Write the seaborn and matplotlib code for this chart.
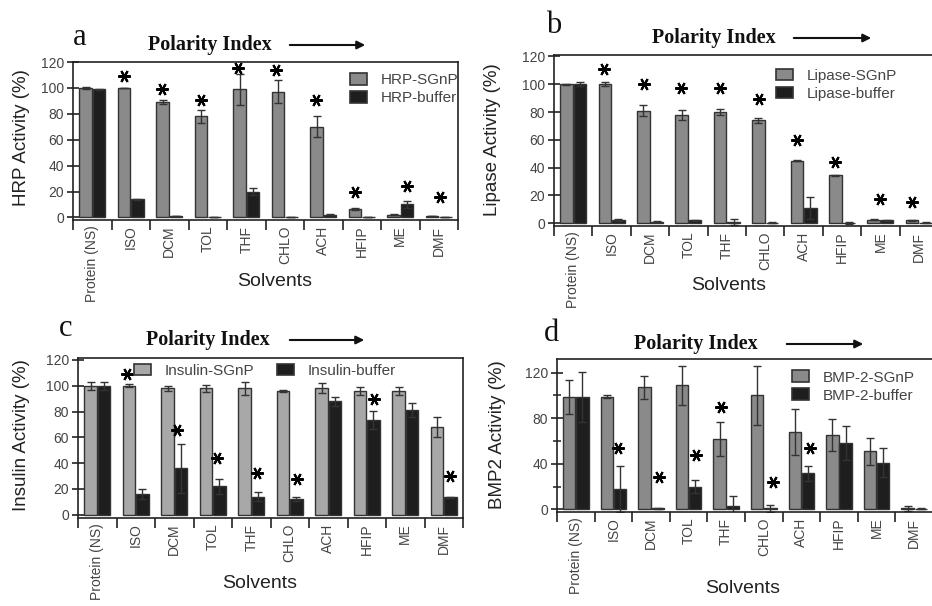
import numpy as np
import pandas as pd
import matplotlib
matplotlib.use("Agg")
import matplotlib.pyplot as plt
import matplotlib.patches as mpatches
import seaborn as sns

solvents = ["Protein (NS)", "ISO", "DCM", "TOL", "THF", "CHLO", "ACH", "HFIP", "ME", "DMF"]

# panel a - HRP
hrp_sgnp = [100, 100, 89, 78, 99, 97, 70, 6.5, 2, 1]
hrp_sgnp_err = [1, 0, 1.5, 5, 12, 9, 8, 0.5, 0.5, 0.2]
hrp_buf = [99, 14, 1, 0.5, 20, 0.5, 2, 0.5, 10, 0.5]
hrp_buf_err = [0.5, 0.5, 0.2, 0.2, 2.5, 0.2, 0.3, 0.2, 2.5, 0.2]
hrp_star_cat = ["ISO", "DCM", "TOL", "THF", "CHLO", "ACH", "HFIP", "ME", "DMF"]
hrp_star_dx = [-0.17, -0.2, -0.18, -0.21, -0.22, -0.18, -0.17, 0.18, 0.03]
hrp_star_y = [109, 99, 91, 115, 114, 91, 20, 24, 16]

# panel b - lipase
lip_sgnp = [100, 100, 81, 78, 80, 74, 45, 34.5, 2.5, 2]
lip_sgnp_err = [0.5, 1.5, 4, 3.5, 2.5, 2, 0.3, 0.5, 0.3, 0.5]
lip_buf = [100, 2.5, 1, 2, 1, 0.5, 11, 0.3, 2, 0.5]
lip_buf_err = [1.5, 0.7, 0.3, 0.5, 2, 0.2, 8, 0.8, 0.3, 0.5]
lip_star_cat = ["ISO", "DCM", "TOL", "THF", "CHLO", "ACH", "HFIP", "ME", "DMF"]
lip_star_dx = [-0.2, -0.16, -0.19, -0.19, -0.15, -0.17, -0.19, 0.0, -0.19]
lip_star_y = [111, 100, 97.5, 97.5, 89.6, 60, 44, 17.5, 15]

# panel c - insulin
ins_sgnp = [100, 100, 98, 98, 98, 96, 98, 96, 96, 68]
ins_sgnp_err = [3, 1, 2, 2.5, 5, 0.5, 4, 3, 3, 8]
ins_buf = [100, 16, 36, 22, 14, 12.5, 88, 73.5, 81, 13.5]
ins_buf_err = [3, 4, 19, 6, 3.5, 1.5, 3.5, 7, 5.5, 0.5]
ins_star_cat = ["ISO", "DCM", "TOL", "THF", "CHLO", "HFIP", "DMF"]
ins_star_dx = [-0.235, 0.07, 0.113, 0.157, 0.2, 0.2, 0.157]
ins_star_y = [109, 66, 44, 32, 27.6, 90, 30]

# panel d - BMP-2
bmp_sgnp = [99, 99, 107, 109, 62, 100, 68, 65, 51, 1]
bmp_sgnp_err = [15, 1.5, 10, 17, 15, 26, 20, 14, 12, 2]
bmp_buf = [99, 18, 1, 20, 3, 1, 31.5, 58, 41, 0.5]
bmp_buf_err = [22, 20, 0.5, 6, 9, 3, 7, 15, 13, 0.5]
bmp_star_cat = ["ISO", "DCM", "TOL", "THF", "CHLO", "ACH"]
bmp_star_dx = [0.135, 0.225, 0.2, -0.15, 0.25, 0.225]
bmp_star_y = [54, 28.7, 47.4, 90, 24, 54]

sns.set_style("ticks")
plt.rcParams["font.family"] = ["Liberation Sans", "DejaVu Sans"]

fig = plt.figure(figsize=(9.32, 6.06), dpi=100)

DARK = "#1e1e1e"
EDGE = "#333333"


def panel(rect, names, sgnp, sgnp_err, buf, buf_err, star_cat, star_dx, star_y,
          ylabel, ylim, yticks, gray, leg_anchor, leg_ncol, ylab_xy, xlab_xy, minor=None):
    ax = fig.add_axes(rect)
    df = pd.DataFrame({
        "Solvents": solvents * 2,
        "group": [names[0]] * len(solvents) + [names[1]] * len(solvents),
        "activity": sgnp + buf,
    })
    sns.barplot(data=df, x="Solvents", y="activity", hue="group", order=solvents,
                palette=[gray, DARK], width=0.7, gap=0.06, edgecolor=EDGE,
                linewidth=1, errorbar=None, legend=False, ax=ax)
    for cont, errs in zip(ax.containers, [sgnp_err, buf_err]):
        for bar, e in zip(cont, errs):
            ax.errorbar(bar.get_x() + bar.get_width() / 2, bar.get_height(), yerr=e,
                        fmt="none", ecolor="#333333", elinewidth=1, capsize=3, capthick=1)
    sx = [solvents.index(c) + d for c, d in zip(star_cat, star_dx)]
    ax.plot(sx, star_y, ls="none", marker=(6, 2, 90), ms=9, mew=1.5, color="black")

    ax.set_xlim(-0.5, 9.5)
    ax.set_ylim(*ylim)
    ax.set_yticks(yticks)
    if minor is not None:
        ax.set_yticks(minor, minor=True)
        ax.tick_params(axis="y", which="minor", direction="inout", length=6, width=1.1, color="#222")
    ax.set_xticks(np.arange(-0.5, 10, 1))
    ax.set_xticklabels([])
    ax.set_xticks(np.arange(10), minor=True)
    ax.set_xticklabels(solvents, minor=True, rotation=90, fontsize=10, color="#444")
    ax.tick_params(axis="x", which="minor", length=0, pad=4)
    ax.tick_params(axis="x", which="major", direction="out", length=7, width=1.2, color="#222")
    ax.tick_params(axis="y", which="major", direction="inout", length=9, width=1.2,
                   color="#222", labelsize=10, labelcolor="#444", pad=2)
    for s in ax.spines.values():
        s.set_linewidth(1.2)
        s.set_color("#222")

    ax.set_ylabel(ylabel, fontsize=13.5, color="#222")
    ax.yaxis.set_label_coords(*ylab_xy)
    ax.set_xlabel("Solvents", fontsize=14, color="#222")
    ax.xaxis.set_label_coords(*xlab_xy)

    handles = [mpatches.Patch(facecolor=gray, edgecolor=EDGE, linewidth=1.2, label=names[0]),
               mpatches.Patch(facecolor=DARK, edgecolor=EDGE, linewidth=1.2, label=names[1])]
    ax.legend(handles=handles, loc="upper left", bbox_to_anchor=leg_anchor, ncol=leg_ncol,
              frameon=False, fontsize=11, labelcolor="#444", handlelength=1.1,
              handleheight=0.8, handletextpad=0.9, borderpad=0, borderaxespad=0,
              columnspacing=1.5, labelspacing=0.25)
    return ax


W, H = 932, 606


def rect(l, t, r, b):
    return [l / W, 1 - b / H, (r - l) / W, (b - t) / H]


panel(rect(73, 62, 458, 220), ["HRP-SGnP", "HRP-buffer"], hrp_sgnp, hrp_sgnp_err, hrp_buf,
      hrp_buf_err, hrp_star_cat, hrp_star_dx, hrp_star_y, "HRP Activity (%)", (-2, 120),
      range(0, 121, 20), "#8a8a8a", (0.72, 0.93), 1, (-0.112, 0.52), (0.525, -0.335))
panel(rect(554, 55, 938, 226), ["Lipase-SGnP", "Lipase-buffer"], lip_sgnp, lip_sgnp_err, lip_buf,
      lip_buf_err, lip_star_cat, lip_star_dx, lip_star_y, "Lipase Activity (%)", (-2, 121),
      range(0, 121, 20), "#8a8a8a", (0.578, 0.92), 1, (-0.138, 0.503), (0.456, -0.298))
panel(rect(78, 358, 463, 518), ["Insulin-SGnP", "Insulin-buffer"], ins_sgnp, ins_sgnp_err, ins_buf,
      ins_buf_err, ins_star_cat, ins_star_dx, ins_star_y, "Insulin Activity (%)", (-2.5, 121.5),
      range(0, 121, 20), "#a8a8a8", (0.146, 0.965), 2, (-0.125, 0.52), (0.473, -0.356))
panel(rect(557, 359, 933, 512), ["BMP-2-SGnP", "BMP-2-buffer"], bmp_sgnp, bmp_sgnp_err, bmp_buf,
      bmp_buf_err, bmp_star_cat, bmp_star_dx, bmp_star_y, "BMP2 Activity (%)", (-2.3, 132),
      [0, 40, 80, 120], "#8a8a8a", (0.625, 0.925), 1, (-0.136, 0.507), (0.495, -0.444),
      minor=[20, 60, 100])

# panel letters, "Polarity Index" headers and arrows
letters = ["a", "b", "c", "d"]
letter_xy = [(73, 45), (546, 33), (59, 336), (544, 341)]
pol_xy = [(210, 45), (714, 38), (208, 340), (696, 344)]
arrow_x = [(287, 368), (791, 874), (287, 367), (784, 866)]
for let, (lx, ly), (px, py), (a0, a1) in zip(letters, letter_xy, pol_xy, arrow_x):
    fig.text(lx / W, 1 - ly / H, let, fontsize=22, family="Liberation Serif", ha="left",
             va="baseline", color="#111")
    fig.text(px / W, 1 - py / H, "Polarity Index", fontsize=14.5, family="Liberation Serif",
             weight="bold", ha="center", va="center", color="#111")
    fig.add_artist(mpatches.FancyArrowPatch((a0 / W, 1 - py / H), (a1 / W, 1 - py / H),
                                            transform=fig.transFigure, arrowstyle="-|>",
                                            mutation_scale=12, lw=1.5, color="#111"))

fig.savefig("out.png", dpi=100)
